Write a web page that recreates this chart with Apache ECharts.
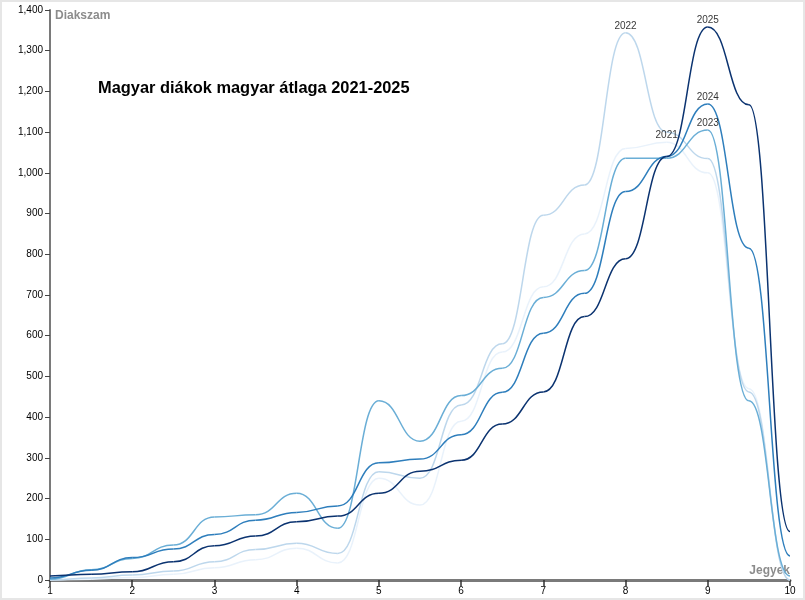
<!DOCTYPE html>
<html>
<head>
<meta charset="utf-8">
<script src="https://cdn.jsdelivr.net/npm/echarts@6/dist/echarts.min.js"></script>
<style>
html, body { margin: 0; padding: 0; background: #fff; }
#chart { width: 805px; height: 600px; }
</style>
</head>
<body>
<div id="chart"></div>
<script>
// ---- data ----
const grades = [1, 1.5, 2, 2.5, 3, 3.5, 4, 4.5, 5, 5.5, 6, 6.5, 7, 7.5, 8, 8.5, 9, 9.5, 10];
const years = ['2021', '2022', '2023', '2024', '2025'];
const v2021 = [0, 2, 6, 14, 30, 50, 78, 42, 250, 184, 390, 560, 720, 850, 1060, 1075, 1000, 470, 0];
const v2022 = [0, 5, 12, 22, 45, 75, 90, 65, 266, 250, 430, 580, 896, 970, 1344, 1100, 1035, 462, 0];
const v2023 = [2, 25, 53, 86, 155, 160, 213, 127, 440, 341, 453, 520, 694, 760, 1036, 1036, 1105, 440, 10];
const v2024 = [5, 24, 55, 76, 112, 147, 166, 182, 288, 297, 357, 461, 606, 704, 954, 1040, 1169, 815, 59];
const v2025 = [10, 14, 20, 45, 84, 108, 143, 157, 213, 267, 294, 383, 462, 647, 789, 1040, 1358, 1167, 119];
const yTicks = [0, 100, 200, 300, 400, 500, 600, 700, 800, 900, 1000, 1100, 1200, 1300, 1400];
const xTicks = [1, 2, 3, 4, 5, 6, 7, 8, 9, 10];
const titleText = 'Magyar diákok magyar átlaga 2021-2025';
const yName = 'Diakszam';
const xName = 'Jegyek';

const allValues = [v2021, v2022, v2023, v2024, v2025];
const colors = ['#e9f2fb', '#bdd7ec', '#6aaed6', '#2e7ebc', '#0b3370'];

function segments(vals) {
  const out = [];
  for (let i = 0; i < grades.length - 1; i++) {
    out.push([grades[i], vals[i], grades[i + 1], vals[i + 1]]);
  }
  return out;
}

function makeRender(color) {
  return function (params, api) {
    const p0 = api.coord([api.value(0), api.value(1)]);
    const p1 = api.coord([api.value(2), api.value(3)]);
    const mx = (p0[0] + p1[0]) / 2;
    return {
      type: 'bezierCurve',
      shape: { x1: p0[0], y1: p0[1], x2: p1[0], y2: p1[1], cpx1: mx, cpy1: p0[1], cpx2: mx, cpy2: p1[1] },
      style: { stroke: color, lineWidth: 1.5, fill: 'none' },
      silent: true
    };
  };
}

const series = years.map((y, k) => ({
  name: y,
  type: 'custom',
  renderItem: makeRender(colors[k]),
  encode: { x: [0, 2], y: [1, 3] },
  data: segments(allValues[k]),
  clip: false,
  z: 2 + k
}));

// labels at each series maximum
const peakData = years.map((y, k) => {
  const vals = allValues[k];
  let bi = 0;
  vals.forEach((v, i) => { if (v > vals[bi]) bi = i; });
  return { name: y, value: [grades[bi], vals[bi]] };
});
series.push({
  type: 'scatter',
  symbolSize: 0,
  data: peakData,
  z: 10,
  silent: true,
  label: {
    show: true,
    position: 'top',
    distance: 2,
    formatter: '{b}',
    fontSize: 10,
    fontFamily: 'Liberation Sans, Arial, sans-serif',
    color: '#000'
  }
});

const chart = echarts.init(document.getElementById('chart'), null, { renderer: 'canvas' });
chart.setOption({
  animation: false,
  backgroundColor: '#fff',
  title: {
    text: titleText,
    left: 98,
    top: 80,
    padding: 0,
    textStyle: { fontSize: 16.4, fontWeight: 'bold', color: '#000', fontFamily: 'Liberation Sans, Arial, sans-serif' }
  },
  graphic: [{
    type: 'rect',
    shape: { x: 1, y: 1, width: 803, height: 598 },
    style: { fill: 'none', stroke: '#e6e6e6', lineWidth: 2 },
    silent: true,
    z: 100
  }],
  grid: { left: 50, right: 15, top: 10, bottom: 20, containLabel: false },
  xAxis: {
    type: 'value',
    min: xTicks[0],
    max: xTicks[xTicks.length - 1],
    interval: 1,
    name: xName,
    nameLocation: 'end',
    nameGap: 0,
    nameTextStyle: {
      align: 'right', verticalAlign: 'bottom', padding: [0, 0, 3, 0],
      fontSize: 12, fontWeight: 'bold', color: '#8c8c8c', fontFamily: 'Liberation Sans, Arial, sans-serif'
    },
    splitLine: { show: false },
    axisLine: { show: true, onZero: false, lineStyle: { color: '#7a7a7a', width: 3 } },
    axisTick: { show: true, length: 6, lineStyle: { color: '#333', width: 1.5 } },
    axisLabel: { margin: 6, fontSize: 10, color: '#000', fontFamily: 'Liberation Sans, Arial, sans-serif' }
  },
  yAxis: {
    type: 'value',
    min: yTicks[0],
    max: yTicks[yTicks.length - 1],
    interval: 100,
    name: yName,
    nameLocation: 'end',
    nameGap: 0,
    nameTextStyle: {
      align: 'left', verticalAlign: 'top', padding: [0, 0, 0, 5],
      fontSize: 12, fontWeight: 'bold', color: '#8c8c8c', fontFamily: 'Liberation Sans, Arial, sans-serif'
    },
    splitLine: { show: false },
    axisLine: { show: true, lineStyle: { color: '#7a7a7a', width: 2 } },
    axisTick: { show: true, length: 5, lineStyle: { color: '#444', width: 1 } },
    axisLabel: {
      margin: 7, fontSize: 10, color: '#000', fontFamily: 'Liberation Sans, Arial, sans-serif',
      formatter: v => v.toLocaleString('en-US')
    }
  },
  series: series
});
</script>
</body>
</html>
